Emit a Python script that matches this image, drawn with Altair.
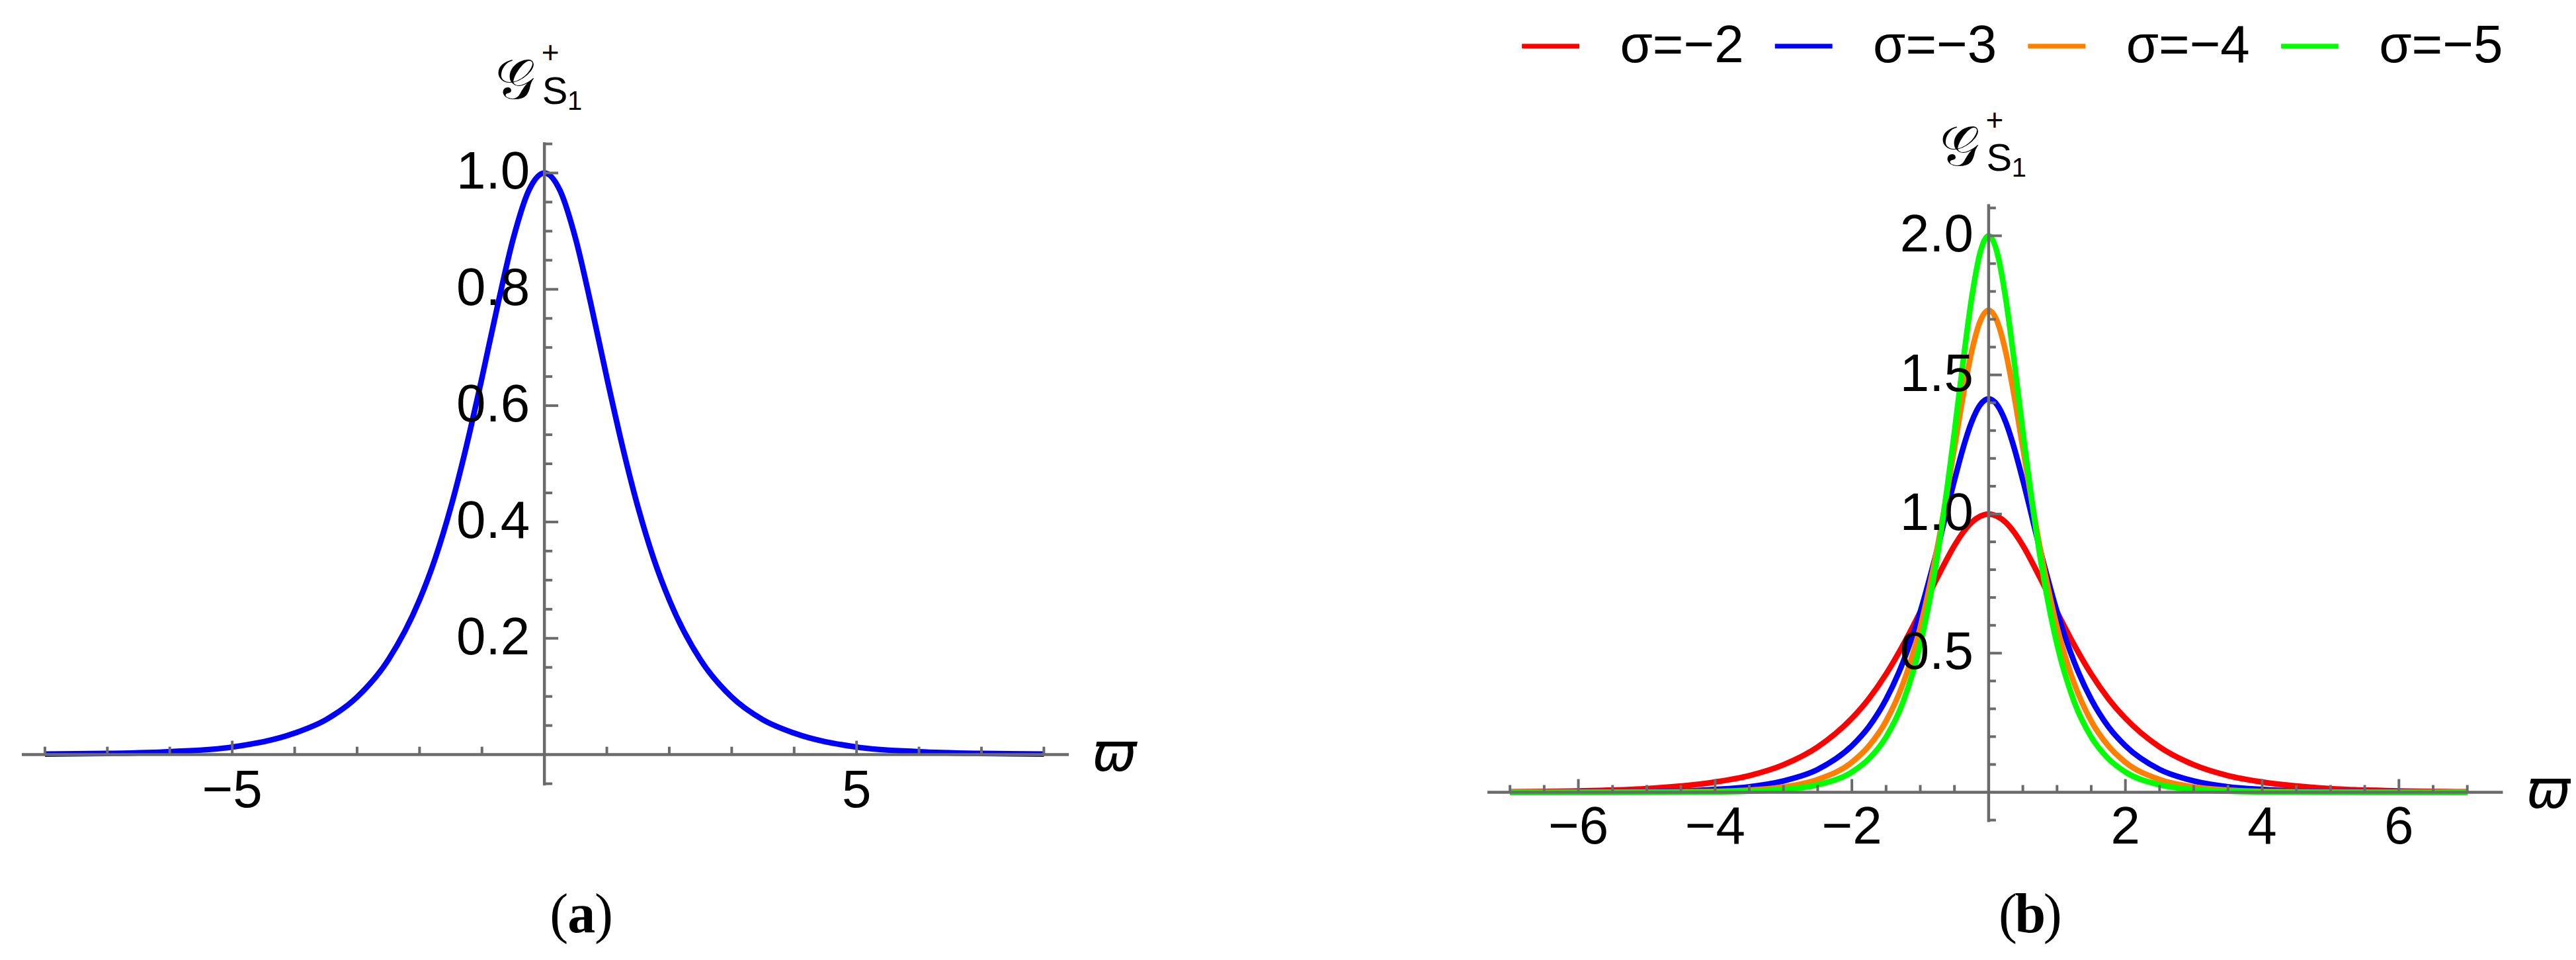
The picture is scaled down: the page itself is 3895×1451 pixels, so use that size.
import altair as alt
import pandas as pd
import numpy as np

# ---------------- data ----------------
omega_a = [-8, -7, -6, -5, -4, -3.5, -3, -2.5, -2, -1.75, -1.5, -1.25, -1, -0.75, -0.5, -0.25,
           0, 0.25, 0.5, 0.75, 1, 1.25, 1.5, 1.75, 2, 2.5, 3, 3.5, 4, 5, 6, 7, 8]
g_a = [0.001, 0.002, 0.005, 0.013, 0.037, 0.060, 0.099, 0.163, 0.266, 0.337, 0.425, 0.530, 0.648, 0.772, 0.887, 0.970,
       1.0, 0.970, 0.887, 0.772, 0.648, 0.530, 0.425, 0.337, 0.266, 0.163, 0.099, 0.060, 0.037, 0.013, 0.005, 0.002, 0.001]

omega_b = [-7, -6, -5, -4, -3.5, -3, -2.5, -2, -1.75, -1.5, -1.25, -1, -0.75, -0.5, -0.375, -0.25, -0.125,
           0, 0.125, 0.25, 0.375, 0.5, 0.75, 1, 1.25, 1.5, 1.75, 2, 2.5, 3, 3.5, 4, 5, 6, 7]
g_sig2 = [0.002, 0.005, 0.013, 0.037, 0.060, 0.099, 0.163, 0.266, 0.337, 0.425, 0.530, 0.648, 0.772, 0.887, 0.934, 0.970, 0.992,
          1.0, 0.992, 0.970, 0.934, 0.887, 0.772, 0.648, 0.530, 0.425, 0.337, 0.266, 0.163, 0.099, 0.060, 0.037, 0.013, 0.005, 0.002]
g_sig3 = [0.000, 0.001, 0.002, 0.010, 0.020, 0.041, 0.082, 0.167, 0.236, 0.334, 0.469, 0.649, 0.874, 1.122, 1.236, 1.330, 1.392,
          1.414, 1.392, 1.330, 1.236, 1.122, 0.874, 0.649, 0.469, 0.334, 0.236, 0.167, 0.082, 0.041, 0.020, 0.010, 0.002, 0.001, 0.000]
g_sig4 = [0.000, 0.000, 0.001, 0.003, 0.008, 0.019, 0.046, 0.108, 0.167, 0.256, 0.392, 0.594, 0.880, 1.238, 1.422, 1.582, 1.692,
          1.732, 1.692, 1.582, 1.422, 1.238, 0.880, 0.594, 0.392, 0.256, 0.167, 0.108, 0.046, 0.019, 0.008, 0.003, 0.001, 0.000, 0.000]
g_sig5 = [0.000, 0.000, 0.000, 0.001, 0.004, 0.010, 0.027, 0.073, 0.121, 0.199, 0.326, 0.532, 0.850, 1.296, 1.545, 1.774, 1.939,
          2.0, 1.939, 1.774, 1.545, 1.296, 0.850, 0.532, 0.326, 0.199, 0.121, 0.073, 0.027, 0.010, 0.004, 0.001, 0.000, 0.000, 0.000]
series_b = ["σ=−2", "σ=−3", "σ=−4", "σ=−5"]
colors_b = ["#ff0000", "#0000ff", "#ff8000", "#00ff00"]

# tick values / labels
xa_major = [-5, 5]
xa_labels = ["−5", "5"]
ya_major = [0.2, 0.4, 0.6, 0.8, 1.0]
ya_labels = ["0.2", "0.4", "0.6", "0.8", "1.0"]
xb_major = [-6, -4, -2, 2, 4, 6]
xb_labels = ["−6", "−4", "−2", "2", "4", "6"]
yb_major = [0.5, 1.0, 1.5, 2.0]
yb_labels = ["0.5", "1.0", "1.5", "2.0"]

AX = "#6b6b6b"
NUMFONT = "Liberation Sans"
LW = 8.5


def minor(lo, hi, step, exclude):
    vals = np.round(np.arange(lo, hi + step / 2, step), 3)
    return [float(v) for v in vals if all(abs(v - e) > 1e-6 for e in exclude) and abs(v) > 1e-6]


def panel(x_dom, y_dom, width, height, x_axis_ext, y_axis_ext,
          x_major, x_lab, y_major, y_lab, x_minor, y_minor,
          xtick_len, ytick_len, ylab_dx, xlab_dy, title_off, plabel, plabel_off, lines):
    xs = alt.Scale(domain=x_dom, nice=False, zero=False)
    ys = alt.Scale(domain=y_dom, nice=False, zero=False)

    def X(f):
        return alt.X(f, type="quantitative", scale=xs, axis=None)

    def Y(f):
        return alt.Y(f, type="quantitative", scale=ys, axis=None)

    layers = list(lines(X, Y))

    # axis lines
    ax_df = pd.DataFrame({"x0": [x_axis_ext[0]], "x1": [x_axis_ext[1]], "y0": [0.0]})
    layers.append(alt.Chart(ax_df).mark_rule(color=AX, strokeWidth=4.5).encode(
        x=X("x0"), x2="x1", y=Y("y0")))
    ay_df = pd.DataFrame({"y0": [y_axis_ext[0]], "y1": [y_axis_ext[1]], "x0": [0.0]})
    layers.append(alt.Chart(ay_df).mark_rule(color=AX, strokeWidth=4.5).encode(
        y=Y("y0"), y2="y1", x=X("x0")))

    # x ticks (pointing up)
    xt = pd.DataFrame({"v": list(x_major) + list(x_minor),
                       "b": 0.0,
                       "e": [xtick_len[0]] * len(x_major) + [xtick_len[1]] * len(x_minor)})
    layers.append(alt.Chart(xt).mark_rule(color=AX, strokeWidth=4).encode(
        x=X("v"), y=Y("b"), y2="e"))
    # y ticks (pointing right)
    yt = pd.DataFrame({"v": list(y_major) + list(y_minor),
                       "b": 0.0,
                       "e": [ytick_len[0]] * len(y_major) + [ytick_len[1]] * len(y_minor)})
    layers.append(alt.Chart(yt).mark_rule(color=AX, strokeWidth=4).encode(
        y=Y("v"), x=X("b"), x2="e"))

    # tick labels
    xl = pd.DataFrame({"v": x_major, "z": 0.0, "t": x_lab})
    layers.append(alt.Chart(xl).mark_text(font=NUMFONT, fontSize=80, color="black",
                                          align="center", baseline="middle", dy=xlab_dy).encode(
        x=X("v"), y=Y("z"), text="t:N"))
    yl = pd.DataFrame({"v": y_major, "z": 0.0, "t": y_lab})
    layers.append(alt.Chart(yl).mark_text(font=NUMFONT, fontSize=80, color="black",
                                          align="right", baseline="middle", dx=ylab_dx).encode(
        y=Y("v"), x=X("z"), text="t:N"))

    def txt(t, x, y, dx, dy, size, font, style="normal", weight="normal", baseline="alphabetic"):
        d = pd.DataFrame({"t": [t], "px": [float(x)], "py": [float(y)]})
        return alt.Chart(d).mark_text(
            font=font, fontSize=size, fontStyle=style, fontWeight=weight, color="black",
            align="center", baseline=baseline, dx=dx, dy=dy).encode(
            x=X("px"), y=Y("py"), text="t:N")

    # axis titles
    layers.append(txt("ϖ", x_axis_ext[1], 0, 69, 0, 80, "DejaVu Sans", style="italic", baseline="middle"))
    gdx, gdy = title_off
    layers.append(txt("𝒢", 0, 0, gdx - 44, gdy, 84, "DejaVu Serif"))
    layers.append(txt("+", 0, 0, gdx + 9, gdy - 68, 46, NUMFONT, baseline="middle"))
    layers.append(txt("S", 0, 0, gdx + 16, gdy + 8, 58, NUMFONT))
    layers.append(txt("1", 0, 0, gdx + 46, gdy + 17, 40, NUMFONT))

    # panel label
    pdx, pdy = plabel_off
    layers.append(txt("(", 0, 0, pdx - 34, pdy, 84, "Liberation Serif"))
    layers.append(txt(plabel, 0, 0, pdx, pdy, 84, "Liberation Serif", weight="bold"))
    layers.append(txt(")", 0, 0, pdx + 34, pdy, 84, "Liberation Serif"))

    return alt.layer(*layers).properties(width=width, height=height)


# ---------------- panel (a) ----------------
df_a = pd.DataFrame({"w": omega_a, "g": g_a})


def lines_a(X, Y):
    yield alt.Chart(df_a).mark_line(color="#0000ff", strokeWidth=LW, interpolate="monotone").encode(
        x=X("w"), y=Y("g"))


W_A, H = 1900, 1435
pa = panel(x_dom=[-8.6349, 11.4709], y_dom=[-0.34318, 1.28750], width=W_A, height=H,
           x_axis_ext=[-8.37, 8.40], y_axis_ext=[-0.053, 1.053],
           x_major=xa_major, x_lab=xa_labels, y_major=ya_major, y_lab=ya_labels,
           x_minor=minor(-8, 8, 1, xa_major), y_minor=minor(-0.05, 1.05, 0.05, ya_major),
           xtick_len=(0.0239, 0.0136), ytick_len=(0.222, 0.127),
           ylab_dx=-22, xlab_dy=56, title_off=(0, -993), plabel="a", plabel_off=(56, 269),
           lines=lines_a)

# ---------------- panel (b) ----------------
rows = []
for name, vals in zip(series_b, [g_sig2, g_sig3, g_sig4, g_sig5]):
    for w, g in zip(omega_b, vals):
        rows.append({"w": w, "g": g, "s": name})
df_b = pd.DataFrame(rows)


def lines_b(X, Y):
    yield alt.Chart(df_b).mark_line(strokeWidth=LW, interpolate="monotone").encode(
        x=X("w"), y=Y("g"),
        color=alt.Color("s:N", scale=alt.Scale(domain=series_b, range=colors_b),
                        legend=alt.Legend(orient="none", legendX=2292, legendY=14, direction="horizontal",
                                          title=None, symbolType="stroke", symbolSize=7569,
                                          symbolStrokeWidth=7, labelFont=NUMFONT, labelFontSize=80,
                                          labelColor="black", labelOffset=58, columnPadding=32,
                                          labelLimit=500, padding=0)))


W_B = 1977
pb = panel(x_dom=[-10.6473, 8.4541], y_dom=[-0.58195, 2.82660], width=W_B, height=H,
           x_axis_ext=[-7.33, 7.52], y_axis_ext=[-0.107, 2.114],
           x_major=xb_major, x_lab=xb_labels, y_major=yb_major, y_lab=yb_labels,
           x_minor=minor(-7, 7, 0.5, xb_major), y_minor=minor(-0.1, 2.1, 0.1, yb_major),
           xtick_len=(0.0475, 0.0261), ytick_len=(0.193, 0.106),
           ylab_dx=-23, xlab_dy=54, title_off=(0, -948), plabel="b", plabel_off=(63, 212),
           lines=lines_b)

chart = alt.hconcat(pa, pb, spacing=0).properties(padding=0).configure_view(stroke=None)
chart.save("out.html", embed_options={"renderer": "svg", "actions": False})
